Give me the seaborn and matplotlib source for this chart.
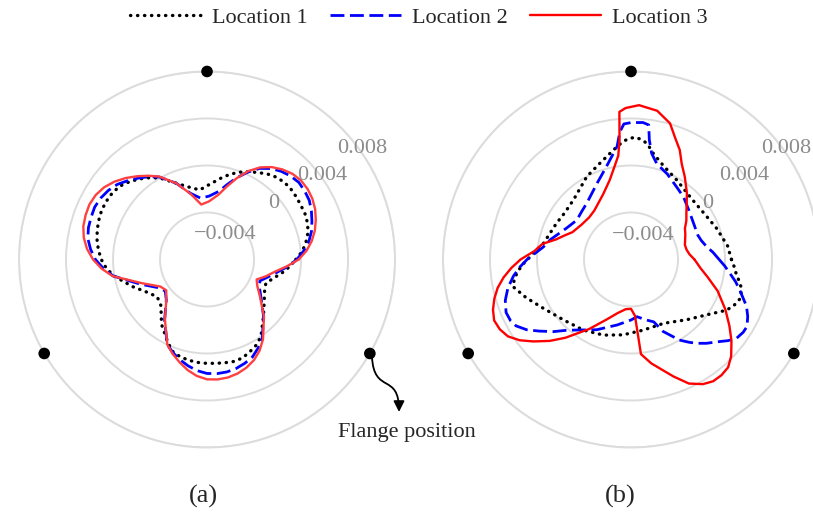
import numpy as np
import matplotlib
matplotlib.use("Agg")
import matplotlib.pyplot as plt
from matplotlib.path import Path
from matplotlib.patches import FancyArrowPatch
import seaborn as sns

# =========================
# Data (radial deviation, x 1e-3), angles in degrees
# =========================
theta_a = [0, 5, 10, 15, 20, 25, 30, 35, 40, 45, 50, 55, 60, 65, 70, 75, 80, 88, 96, 104,
           112, 120, 125, 130, 135, 140, 145, 150, 155, 160, 165, 170, 175, 180, 185,
           190, 200, 210, 217, 225, 235, 245, 250, 255, 260, 265, 270, 275, 280, 285,
           290, 295, 300, 305, 315, 325, 332, 338, 344, 350, 355]
loc1_a = [-0.45, 0.15, 0.55, 0.9, 1.1, 1.2, 1.22, 1.28, 1.32, 1.3,
          1.15, 0.9, 0.55, 0.25, -0.1, -0.5, -0.95, -1.6, -2.05, -1.65,
          -1.0, 0.0, 0.5, 0.95, 1.35, 1.7, 1.85, 1.9, 1.9, 1.8,
          1.68, 1.5, 1.28, 1.0, 0.6, 0.05, -1.25, -2.3, -2.7, -2.45,
          -1.25, -0.15, 0.4, 0.6, 0.72, 0.8, 0.84, 0.87, 0.92, 0.98,
          0.9, 0.65, 0.4, 0.0, -1.2, -2.05, -2.45, -2.6, -2.15, -1.5, -0.95]
loc2_a = [-0.35, 0.25, 0.8, 1.2, 1.5, 1.8, 2.05, 2.15, 2.2, 2.05,
          1.8, 1.45, 0.95, 0.2, -0.6, -1.4, -2.1, -2.6, -2.75, -2.2,
          -1.0, 0.1, 0.6, 1.05, 1.5, 1.95, 2.25, 2.45, 2.55, 2.5,
          2.45, 2.3, 1.95, 1.5, 0.85, 0.1, -1.9, -3.2, -3.55, -3.1,
          -1.7, 0.0, 0.45, 0.85, 1.2, 1.5, 1.7, 1.75, 1.72, 1.6,
          1.4, 1.15, 0.7, 0.2, -1.2, -2.4, -2.95, -3.15, -2.6, -1.9, -1.1]
loc3_a = [-0.2, 0.5, 1.05, 1.5, 1.85, 2.15, 2.35, 2.45, 2.45, 2.3,
          2.0, 1.6, 1.05, 0.3, -0.65, -1.6, -2.4, -3.05, -3.3, -2.25,
          -1.0, 0.15, 0.7, 1.25, 1.8, 2.3, 2.7, 2.95, 3.05, 3.0,
          2.9, 2.65, 2.25, 1.7, 1.0, 0.15, -2.1, -3.4, -3.65, -3.1,
          -1.75, 0.0, 0.55, 1.05, 1.55, 1.95, 2.2, 2.25, 2.2, 2.05,
          1.8, 1.45, 0.95, 0.3, -1.15, -2.5, -3.15, -3.45, -2.8, -2.1, -1.2]

theta_b1 = [0, 8, 20, 30, 45, 60, 71, 78, 82, 85, 88, 91, 94, 99, 108, 118, 134, 145,
            154, 170, 176, 180, 183, 187, 190, 193, 200, 209, 222, 236, 250, 264, 280,
            297, 313, 324, 332, 336, 340, 343, 346, 349, 352, 356]
loc1_b = [0.55, 0.3, -0.25, -0.6, -0.7, -0.2, 0.45, 1.2, 1.95, 2.25,
          2.4, 2.3, 2.05, 1.45, 0.6, 0.0, -0.95, -1.1, -0.95, -0.4,
          0.3, 0.8, 1.3, 1.8, 2.1, 2.3, 1.5, 0.55, -0.3, -0.75,
          -1.15, -1.55, -1.9, -1.9, -1.0, 0.0, 1.2, 1.6, 1.85, 1.8,
          1.65, 1.35, 1.05, 0.8]

theta_b2 = [0, 5, 10, 15, 20, 30, 40, 50, 58, 67, 75, 79, 81.3, 82.5, 85, 90, 93, 95,
            97, 105, 114, 128, 136, 144, 154, 166, 172, 180, 184, 188, 193, 198, 203,
            207, 210, 214, 218, 223, 228, 244, 258, 270, 276, 284, 290, 294, 301, 305,
            308, 312, 316, 320, 323, 327, 330, 334, 338, 344, 348, 352, 356]
loc2_b = [-0.5, -1.0, -1.5, -1.8, -1.95, -1.85, -1.55, -1.05, -0.7, -0.1,
          0.45, 1.2, 2.3, 3.55, 3.7, 3.65, 3.55, 2.9, 1.7, 0.15,
          -0.9, -1.9, -2.15, -2.3, -1.9, -0.95, -0.45, 0.85, 1.5, 2.1,
          2.75, 3.25, 3.55, 3.5, 3.3, 2.7, 1.9, 1.0, 0.1, -1.35,
          -2.3, -2.85, -3.1, -2.7, -2.35, -1.3, 0.0, 0.6, 1.05, 1.6,
          2.1, 2.75, 3.2, 3.38, 3.4, 3.05, 2.6, 1.65, 1.1, 0.5, 0.0]

theta_b3 = [0, 5, 10, 15, 20, 25, 30, 35, 40, 45, 50, 57, 62, 66, 70, 74, 80, 87, 92,
            94.5, 95.5, 97, 100, 105, 113, 120, 127, 135, 145, 150, 155, 160, 165, 170,
            175, 180, 184, 188, 192, 196, 200, 204, 208, 212, 216, 220, 225, 230, 239,
            248, 256, 264, 270, 274, 276, 281, 286, 290, 295, 300, 304, 308, 312, 316,
            321, 326, 332, 340, 347, 353]
loc3_b = [-2.6, -3.0, -3.2, -3.25, -3.1, -2.9, -2.7, -2.25, -1.85, -1.3,
          -0.6, 0.4, 1.2, 2.2, 3.0, 4.05, 4.85, 5.15, 4.9, 4.6,
          2.2, 0.9, 0.05, -1.0, -1.95, -2.45, -2.8, -2.95, -2.85, -2.7,
          -2.5, -2.0, -1.4, -0.35, 0.25, 1.4, 2.2, 2.95, 3.6, 4.1,
          4.5, 4.75, 4.65, 4.35, 3.7, 2.85, 1.8, 0.7, -1.1, -2.5,
          -3.3, -3.75, -3.8, -3.2, 0.1, 1.0, 1.8, 2.6, 3.65, 4.25,
          4.5, 4.5, 4.35, 3.85, 3.0, 2.1, 1.1, -0.15, -1.3, -2.05]

flange_theta = [90, 210, 330]
flange_r = [0.008, 0.008, 0.008]

r_ticks = [-0.004, 0, 0.004, 0.008]
r_tick_labels = ["\u22120.004", "0", "0.004", "0.008"]

series_names = ["Location 1", "Location 2", "Location 3"]

# =========================
# Style
# =========================
sns.set_theme(style="white")
plt.rcParams["font.family"] = ["Liberation Serif", "DejaVu Serif"]

grid_col = "#dcdcdc"
label_col = "#8c8c8c"


def closed(th, r):
    th = np.deg2rad(np.append(th, th[0] + 360))
    r = np.append(r, r[0]) * 1e-3
    return th, r


fig = plt.figure(figsize=(8.13, 5.12), dpi=100)

ax_a = fig.add_axes([0.0234, 0.126, 0.4625, 0.7344], projection="polar")
ax_b = fig.add_axes([0.5449, 0.126, 0.4625, 0.7344], projection="polar")

panels = [
    dict(ax=ax_a,
         curves=[(theta_a, loc1_a), (theta_a, loc2_a), (theta_a, loc3_a)],
         red="#ff4040",
         label_pos=[(53.5, -0.00536), (40.3, -0.00061), (36, 0.00415), (35.4, 0.00824)]),
    dict(ax=ax_b,
         curves=[(theta_b1, loc1_b), (theta_b2, loc2_b), (theta_b3, loc3_b)],
         red="#ff0000",
         label_pos=[(63.9, -0.00568), (36.2, 0.00009), (36.8, 0.0040), (35.4, 0.00824)]),
]

for p in panels:
    ax = p["ax"]
    ax.set_theta_zero_location("E")
    ax.set_ylim(-0.008, 0.008)
    ax.set_yticks(r_ticks)
    ax.set_yticklabels([])
    ax.set_xticks([])
    ax.yaxis.grid(True, color=grid_col, lw=1.4)
    ax.spines["polar"].set_color(grid_col)
    ax.spines["polar"].set_linewidth(1.4)
    ax.set_facecolor("white")

    styles = [
        dict(color="black", lw=2.4, linestyle=(0, (0.1, 2.0)), dash_capstyle="round"),
        dict(color="#0000ff", lw=2.0, linestyle=(0, (5, 2))),
        dict(color=p["red"], lw=1.7, linestyle="-"),
    ]

    for (th, r), st, name in zip(p["curves"], styles, series_names):
        x, y = closed(th, r)
        sns.lineplot(x=x, y=y, ax=ax, sort=False, estimator=None, label=name, **st)

    sns.scatterplot(x=np.deg2rad(flange_theta), y=flange_r, ax=ax, color="black",
                    s=70, edgecolor="none", clip_on=False, zorder=5)

    # radial tick labels
    for (ang, rr), txt in zip(p["label_pos"], r_tick_labels):
        ax.text(np.deg2rad(ang), rr, txt, ha="center", va="center",
                fontsize=16, color=label_col)

    ax.get_legend().remove()

# =========================
# Legend
# =========================
handles, labels = ax_b.get_legend_handles_labels()
fig.legend(handles, labels, loc="center", bbox_to_anchor=(0.515, 0.965), ncol=3,
           frameon=False, fontsize=16, handlelength=3.2, handletextpad=0.5,
           columnspacing=1.0)

# =========================
# Flange annotation
# =========================
W, H = 813, 512
pts = [(372, 357), (374, 395), (399, 372), (399, 412)]
path = Path([(x / W, 1 - y / H) for x, y in pts],
            [Path.MOVETO, Path.CURVE4, Path.CURVE4, Path.CURVE4])
arrow = FancyArrowPatch(path=path, arrowstyle="-|>", mutation_scale=16,
                        color="black", lw=1.3, transform=fig.transFigure)
fig.add_artist(arrow)
fig.text(407 / W, 1 - 432 / H, "Flange position", ha="center", va="center",
         fontsize=16)

# =========================
# Panel labels
# =========================
fig.text(203 / W, 1 - 496 / H, "(a)", ha="center", va="center", fontsize=19)
fig.text(620 / W, 1 - 496 / H, "(b)", ha="center", va="center", fontsize=19)

plt.savefig("out.png", dpi=100)
